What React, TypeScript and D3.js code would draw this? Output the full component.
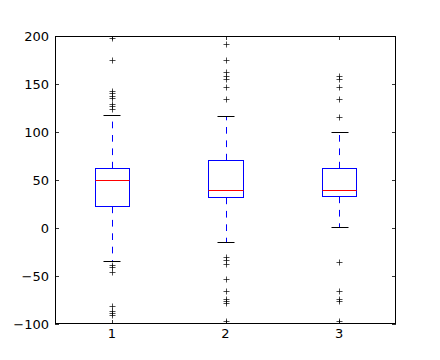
import React from "react";
import * as d3 from "d3";

const categories = ["1", "2", "3"];
const q1 = [22.9, 32, 33.3];
const median = [50, 39.2, 39.2];
const q3 = [62.5, 70.5, 62.5];
const whiskerLow = [-34.4, -14.6, 0.7];
const whiskerHigh = [117.4, 116.3, 99.7];
const fliers1 = [197.6, 174.7, 142.7, 140.3, 137.8, 135.1, 129.5, 126.7, 124.3, -38.5, -40.3, -46.2, -80.9, -86.5, -88.9, -91];
const fliers2 = [192, 174.7, 162.2, 158.7, 155.5, 146.5, 134.7, -30.2, -33.3, -37.2, -53.1, -65.6, -74, -76, -78.5, -96.5];
const fliers3 = [158.3, 155.5, 146.5, 134.7, 116, -35.8, -66, -74.3, -76, -96.5];
const fliers = [fliers1, fliers2, fliers3];
const yTicks = [-100, -50, 0, 50, 100, 150, 200];

const W = 440, H = 360;
const L = 55, R = 396, T = 36, B = 324;

export default function App() {
  const x = d3.scaleLinear().domain([0.5, 3.5]).range([L, R]);
  const y = d3.scaleLinear().domain([-100, 200]).range([B, T]);
  const boxW = 0.3;
  const capW = 0.15;
  const font = "'DejaVu Sans', sans-serif";
  const px = (v: number) => Math.round(v) + 0.5;
  return (
    <svg width={W} height={H} style={{ position: "absolute", left: 0, top: 0, background: "#fff" }}>
      <rect x={0} y={0} width={W} height={H} fill="#fff" />
      <defs>
        <clipPath id="ax">
          <rect x={L} y={T} width={R - L} height={B - T} />
        </clipPath>
      </defs>
      <g clipPath="url(#ax)">
        {categories.map((c, i) => {
          const p = i + 1;
          const cx = px(x(p));
          const xl = px(x(p - boxW / 2));
          const xr = px(x(p + boxW / 2));
          return (
            <g key={c}>
              <line x1={cx} x2={cx} y1={px(y(q1[i]))} y2={px(y(whiskerLow[i]))} stroke="#0000ff" strokeWidth={1} strokeDasharray="6.7,6.7" />
              <line x1={cx} x2={cx} y1={px(y(q3[i]))} y2={px(y(whiskerHigh[i]))} stroke="#0000ff" strokeWidth={1} strokeDasharray="6.7,6.7" />
              <line x1={px(x(p - capW / 2))} x2={px(x(p + capW / 2))} y1={px(y(whiskerLow[i]))} y2={px(y(whiskerLow[i]))} stroke="#000" strokeWidth={1} />
              <line x1={px(x(p - capW / 2))} x2={px(x(p + capW / 2))} y1={px(y(whiskerHigh[i]))} y2={px(y(whiskerHigh[i]))} stroke="#000" strokeWidth={1} />
              <rect x={xl} y={px(y(q3[i]))} width={xr - xl} height={px(y(q1[i])) - px(y(q3[i]))} fill="none" stroke="#0000ff" strokeWidth={1} />
              <line x1={xl} x2={xr} y1={px(y(median[i]))} y2={px(y(median[i]))} stroke="#ff0000" strokeWidth={1} />
              {fliers[i].map((v, j) => {
                const fy = px(y(v));
                return (
                  <path key={j} d={`M${cx - 3},${fy}H${cx + 3}M${cx},${fy - 3}V${fy + 3}`} stroke="#000" strokeWidth={0.7} fill="none" />
                );
              })}
            </g>
          );
        })}
      </g>
      {yTicks.map((t) => (
        <g key={t}>
          <line x1={L} x2={L + 4} y1={px(y(t))} y2={px(y(t))} stroke="#000" strokeWidth={0.8} />
          <line x1={R - 4} x2={R} y1={px(y(t))} y2={px(y(t))} stroke="#000" strokeWidth={0.8} />
          <text x={L - 6} y={y(t)} dy="0.36em" textAnchor="end" fontFamily={font} fontSize={13} fill="#000">
            {t < 0 ? "\u2212" + Math.abs(t) : String(t)}
          </text>
        </g>
      ))}
      {categories.map((c, i) => (
        <g key={c}>
          <line x1={px(x(i + 1))} x2={px(x(i + 1))} y1={B} y2={B - 4} stroke="#000" strokeWidth={0.8} />
          <line x1={px(x(i + 1))} x2={px(x(i + 1))} y1={T} y2={T + 4} stroke="#000" strokeWidth={0.8} />
          <text x={x(i + 1)} y={B + 14} textAnchor="middle" fontFamily={font} fontSize={13} fill="#000">
            {c}
          </text>
        </g>
      ))}
      <rect x={L + 0.5} y={T + 0.5} width={R - L - 1} height={B - T - 1} fill="none" stroke="#000" strokeWidth={1} />
    </svg>
  );
}
